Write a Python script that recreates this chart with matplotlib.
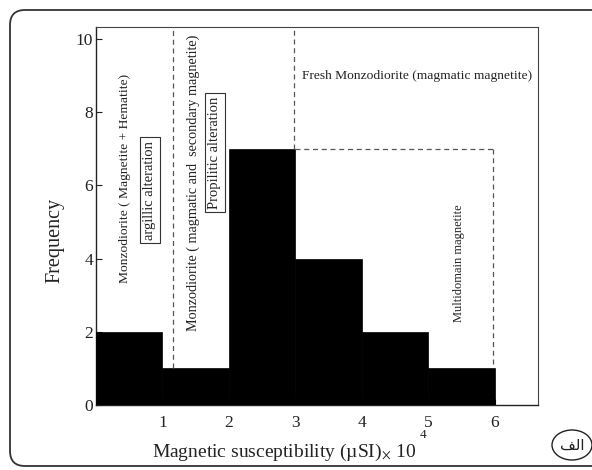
import matplotlib.pyplot as plt
from matplotlib.patches import FancyBboxPatch, Ellipse

# histogram data
bin_edges = [0, 1, 2, 3, 4, 5, 6]
frequency = [2, 1, 7, 4, 2, 1]
x_ticks = [1, 2, 3, 4, 5, 6]
y_ticks = [0, 2, 4, 6, 8, 10]

plt.rcParams['font.family'] = ['Liberation Serif', 'DejaVu Serif']
plt.rcParams['mathtext.fontset'] = 'stix'

fig = plt.figure(figsize=(5.92, 4.70), dpi=100)
ax = fig.add_axes([96 / 592, 65 / 470, 442 / 592, 378 / 470])

lefts = bin_edges[:-1]
widths = [b - a for a, b in zip(bin_edges[:-1], bin_edges[1:])]
ax.bar(lefts, frequency, width=widths, align='edge', color='black',
       edgecolor='black', linewidth=0.5, zorder=3)

ax.set_xlim(0, 6.65)
ax.set_ylim(0, 10.33)
ax.set_xticks(x_ticks)
ax.set_yticks(y_ticks)
ax.tick_params(direction='in', length=4, width=0.8, labelsize=12.5,
               colors='#222222')
ax.tick_params(axis='x', pad=7)
ax.tick_params(axis='y', pad=2)
for side in ['top', 'right']:
    ax.spines[side].set_linewidth(0.8)
    ax.spines[side].set_color('#444444')
for side in ['left', 'bottom']:
    ax.spines[side].set_linewidth(1.0)
    ax.spines[side].set_color('#222222')

# dashed zone boundaries
dash = dict(color='#555555', linestyle=(0, (4, 3)), linewidth=0.9, zorder=4)
ax.plot([1.16, 1.16], [frequency[1], 10.33], **dash)
ax.plot([2.98, 2.98], [frequency[2], 10.33], **dash)
ax.plot([3, 5.97], [frequency[2], frequency[2]], **dash)
ax.plot([5.97, 5.97], [frequency[2], frequency[5]], **dash)

tc = '#222222'
ax.text(0.44, 6.2, 'Monzodiorite ( Magnetite + Hematite)', rotation=90,
        ha='center', va='center', fontsize=9.7, color=tc)
ax.text(0.81, 5.87, 'argillic alteration', rotation=90, ha='center',
        va='center', fontsize=10.5, color=tc,
        bbox=dict(boxstyle='square,pad=0.25', fc='white', ec='#333333', lw=0.8))
ax.text(1.46, 6.07, 'Monzodiorite ( magmatic and  secondary magnetite)',
        rotation=90, ha='center', va='center', fontsize=10.2, color=tc)
ax.text(1.79, 6.9, 'Propilitic alteration', rotation=90, ha='center',
        va='center', fontsize=10.5, color=tc,
        bbox=dict(boxstyle='square,pad=0.25', fc='white', ec='#333333', lw=0.8))
ax.text(4.83, 9.0, 'Fresh Monzodiorite (magmatic magnetite)', ha='center',
        va='center', fontsize=9.7, color=tc)
ax.text(5.46, 3.88, 'Multidomain magnetite', rotation=90, ha='center',
        va='center', fontsize=9, color=tc)

fig.text(55 / 592, 1 - 240 / 470, 'Frequency', rotation=90, ha='center',
         va='center', fontsize=14.5, color=tc)
fig.text(417 / 592, 1 - 452 / 470,
         r'Magnetic susceptibility (µSI)$_{\times}$ 10',
         ha='right', va='center', fontsize=14, color=tc)
fig.text(423 / 592, 1 - 435 / 470, '4', ha='center', va='center',
         fontsize=9.5, color=tc)

# outer rounded frame
frame = FancyBboxPatch((0.10, 0.04), 6.2, 4.56,
                       boxstyle='round,pad=0,rounding_size=0.15',
                       transform=fig.dpi_scale_trans, fill=False,
                       ec='#333333', lw=1.3)
fig.patches.append(frame)

# circled panel label
circ = Ellipse((5.72, 0.25), 0.40, 0.30, transform=fig.dpi_scale_trans,
               fill=False, ec='#222222', lw=1.0)
fig.patches.append(circ)
fig.text(5.72 / 5.92, 0.25 / 4.70, '\uFED2\uFEDF\uFE8D', family='DejaVu Sans',
         ha='center', va='center', fontsize=11, color=tc)

fig.savefig('out.png', dpi=100)
